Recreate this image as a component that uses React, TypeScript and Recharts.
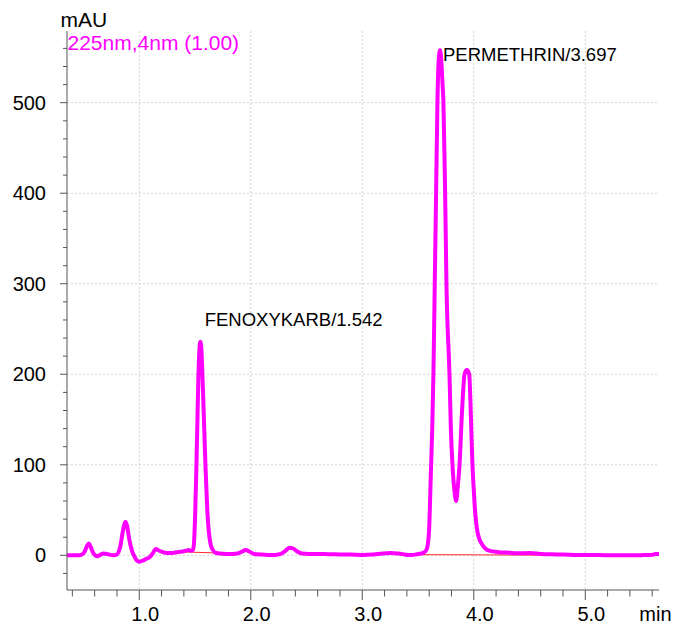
import React from 'react';
import {
  LineChart,
  Line,
  XAxis,
  YAxis,
  CartesianGrid,
  ReferenceLine,
  ReferenceDot,
} from 'recharts';

// chromatogram, [time min, mAU]
const EARLY: [number, number][] = [
  [0.35, 0], [0.4, 0], [0.45, 0], [0.48, 0.5], [0.51, 4], [0.53, 10], [0.548, 13],
  [0.565, 9], [0.585, 3], [0.605, 0], [0.625, -1], [0.65, 0.5], [0.68, 2], [0.71, 1.5],
  [0.74, 0.5], [0.77, 0], [0.8, 1], [0.83, 10], [0.855, 28], [0.875, 37], [0.89, 33],
  [0.91, 18], [0.935, 5], [0.96, -2], [0.98, -6], [1.0, -7], [1.03, -6], [1.06, -4],
  [1.095, -2], [1.12, 2], [1.15, 7], [1.18, 5], [1.21, 3.5], [1.25, 2.5], [1.29, 2.5],
  [1.33, 3.5], [1.37, 4], [1.4, 4.5], [1.43, 5.5], [1.445, 6], [1.465, 5],
];

const FENOXYKARB: [number, number][] = [
  [1.48, 6], [1.49, 12], [1.5, 40], [1.51, 85], [1.52, 140], [1.53, 195], [1.54, 228],
  [1.548, 236], [1.555, 232], [1.565, 205], [1.58, 150], [1.595, 95], [1.61, 50],
  [1.625, 25], [1.64, 12], [1.66, 6], [1.68, 3],
];

const MIDDLE: [number, number][] = [
  [1.72, 2], [1.78, 1.5], [1.84, 1.5], [1.88, 2], [1.92, 4], [1.955, 6], [1.99, 4],
  [2.03, 1.5], [2.08, 1], [2.15, 0.5], [2.22, 0.5], [2.27, 1.5], [2.31, 5], [2.35, 8.5],
  [2.38, 7.5], [2.42, 4], [2.46, 2], [2.52, 1.5], [2.6, 1.5], [2.7, 1.2], [2.8, 1],
  [2.9, 0.8], [3.0, 0.5], [3.1, 1], [3.18, 2], [3.25, 2.5], [3.32, 2], [3.38, 1],
  [3.42, 0.3], [3.46, 0.5], [3.5, 1.5], [3.53, 2],
];

const PERMETHRIN: [number, number][] = [
  [3.55, 3], [3.57, 5], [3.585, 10], [3.6, 30], [3.615, 90], [3.627, 138], [3.638, 200],
  [3.65, 300], [3.662, 400], [3.674, 500], [3.686, 548], [3.697, 558], [3.708, 548],
  [3.72, 520], [3.728, 500], [3.743, 400], [3.755, 300], [3.782, 200], [3.795, 138],
  [3.809, 100], [3.826, 72], [3.842, 60], [3.856, 75], [3.872, 100], [3.895, 160],
  [3.917, 200], [3.938, 205], [3.959, 200], [3.975, 150], [3.988, 100], [4.0, 72],
  [4.012, 48], [4.03, 28], [4.05, 18], [4.07, 13], [4.1, 8], [4.13, 5.5],
];

const TAIL: [number, number][] = [
  [4.22, 3.5], [4.3, 3], [4.4, 2.2], [4.5, 2.5], [4.6, 1.5], [4.75, 1], [4.9, 0.5],
  [5.05, 0.5], [5.2, 0], [5.35, 0], [5.5, 0.2], [5.6, 0.5], [5.63, 1.5], [5.661, 1.5],
];

// integration baselines
const BASE_FENOXYKARB = [{ x: 1.41, y: 3.7 }, { x: 1.873, y: 2 }];
const BASE_PERMETHRIN = [{ x: 3.42, y: 0.8 }, { x: 5.195, y: 0 }];

const PEAKS = [
  { name: 'FENOXYKARB/1.542', t: 1.542, v: 236, dx: 5, dy: -16 },
  { name: 'PERMETHRIN/3.697', t: 3.697, v: 558, dx: 3, dy: 10.5 },
];

const X_TICKS = [
  0.4, 0.6, 0.8, 1.0, 1.2, 1.4, 1.6, 1.8, 2.0, 2.2, 2.4, 2.6, 2.8, 3.0, 3.2, 3.4, 3.6,
  3.8, 4.0, 4.2, 4.4, 4.6, 4.8, 5.0, 5.2, 5.4, 5.6,
];
const X_MAJOR = [1, 2, 3, 4, 5];
const X_LABELS = ['1.0', '2.0', '3.0', '4.0', '5.0'];

const Y_TICKS = [
  -20, 0, 20, 40, 60, 80, 100, 120, 140, 160, 180, 200, 220, 240, 260, 280, 300, 320,
  340, 360, 380, 400, 420, 440, 460, 480, 500, 520, 540, 560,
];
const Y_MAJOR = [0, 100, 200, 300, 400, 500];
const Y_LABELS = ['0', '100', '200', '300', '400', '500'];

const data = [...EARLY, ...FENOXYKARB, ...MIDDLE, ...PERMETHRIN, ...TAIL].map(([t, v]) => ({ t, v }));

const FONT = '"Liberation Sans", Arial, sans-serif';
const AXIS = '#555';

function XTick(props: any) {
  const { x, y, payload } = props;
  const idx = X_MAJOR.findIndex((m) => Math.abs(m - payload.value) < 1e-6);
  const major = idx >= 0;
  return (
    <g>
      <line x1={x} x2={x} y1={y} y2={y + (major ? 10 : 6.5)} stroke={AXIS} strokeWidth={1} />
      {major && (
        <text x={x + 6} y={y + 31} textAnchor="middle" fontSize={20} fontFamily={FONT} fill="#000">
          {X_LABELS[idx]}
        </text>
      )}
    </g>
  );
}

function YTick(props: any) {
  const { x, y, payload } = props;
  const idx = Y_MAJOR.findIndex((m) => Math.abs(m - payload.value) < 1e-6);
  const major = idx >= 0;
  return (
    <g>
      <line x1={x - (major ? 7 : 4)} x2={x} y1={y} y2={y} stroke={AXIS} strokeWidth={1} />
      {major && (
        <text x={x - 21} y={y + 7} textAnchor="end" fontSize={20} fontFamily={FONT} fill="#000">
          {Y_LABELS[idx]}
        </text>
      )}
    </g>
  );
}

function PeakText(props: any) {
  const { viewBox, text, dx, dy } = props;
  if (!viewBox) return null;
  return (
    <text x={viewBox.x + dx} y={viewBox.y + dy} fontSize={18.5} fontFamily={FONT} fill="#000">
      {text}
    </text>
  );
}

export default function App() {
  return (
    <div
      style={{
        position: 'absolute',
        left: 0,
        top: 0,
        width: 675,
        height: 624,
        background: '#fff',
        overflow: 'hidden',
        fontFamily: FONT,
      }}
    >
      <LineChart width={675} height={624} data={data} margin={{ top: 31, right: 16, left: 0, bottom: 0 }}>
        <CartesianGrid
          stroke="#d4d4d4"
          strokeDasharray="2 2"
          horizontalValues={Y_MAJOR}
          verticalValues={X_MAJOR}
        />
        <XAxis
          dataKey="t"
          type="number"
          domain={[0.352, 5.661]}
          allowDataOverflow
          ticks={X_TICKS}
          interval={0}
          tickSize={0}
          tickMargin={0}
          tickLine={false}
          tick={<XTick />}
          axisLine={{ stroke: AXIS }}
          height={34}
        />
        <XAxis xAxisId="top" orientation="top" dataKey="t" type="number" domain={[0.352, 5.661]} tick={false} tickLine={false} height={0} axisLine={{ stroke: '#777' }} />
        <YAxis
          type="number"
          domain={[-38.3, 579.2]}
          allowDataOverflow
          ticks={Y_TICKS}
          interval={0}
          tickSize={0}
          tickMargin={0}
          tickLine={false}
          tick={<YTick />}
          axisLine={{ stroke: AXIS }}
          width={67}
        />
        <YAxis yAxisId="right" orientation="right" type="number" domain={[-38.3, 579.2]} tick={false} tickLine={false} width={0} axisLine={{ stroke: '#777' }} />
        <ReferenceLine segment={BASE_FENOXYKARB} stroke="#ff2a2a" strokeWidth={1} />
        <ReferenceLine segment={BASE_PERMETHRIN} stroke="#ff2a2a" strokeWidth={1} />
        <Line
          dataKey="v"
          type="monotone"
          stroke="#ff00ff"
          strokeWidth={4}
          dot={false}
          isAnimationActive={false}
        />
        {PEAKS.map((p) => (
          <ReferenceDot
            key={p.name}
            x={p.t}
            y={p.v}
            r={0}
            stroke="none"
            fill="none"
            label={<PeakText text={p.name} dx={p.dx} dy={p.dy} />}
          />
        ))}
      </LineChart>
      <svg width={675} height={624} style={{ position: 'absolute', left: 0, top: 0, pointerEvents: 'none' }}>
        <text x={60.5} y={26.7} fontSize={21} fontFamily={FONT} fill="#000">mAU</text>
        <text x={67.5} y={50} fontSize={21} fontFamily={FONT} fill="#ff00ff">225nm,4nm (1.00)</text>
        <text x={639.3} y={621} fontSize={20} fontFamily={FONT} fill="#000">min</text>
      </svg>
    </div>
  );
}
